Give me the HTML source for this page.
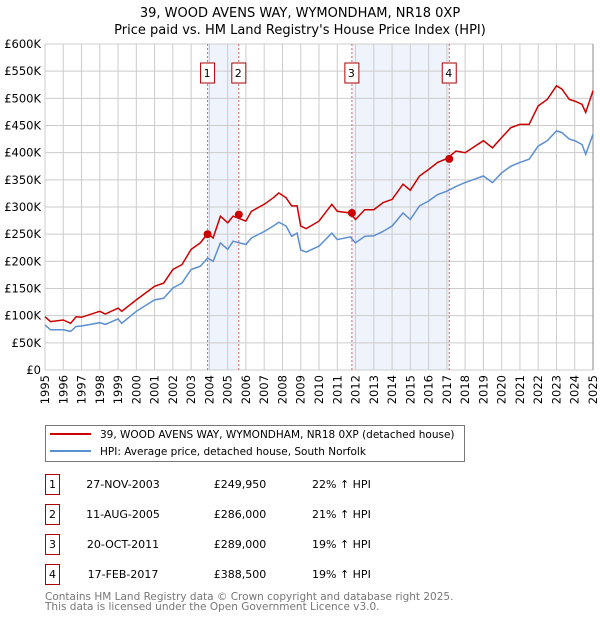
<!DOCTYPE html>
<html><head><meta charset="utf-8"><style>
body{margin:0;background:#fff;font-family:"DejaVu Sans","Liberation Sans",sans-serif;}
svg text{font-family:"DejaVu Sans","Liberation Sans",sans-serif;}
</style></head><body>
<svg id="chart" width="600" height="620" xmlns="http://www.w3.org/2000/svg">
<text x="300" y="17" font-size="13" text-anchor="middle">39, WOOD AVENS WAY, WYMONDHAM, NR18 0XP</text>
<text x="300" y="34" font-size="13" text-anchor="middle">Price paid vs. HM Land Registry's House Price Index (HPI)</text>
<g id="plot"></g>
<g>
<rect x="45.5" y="425.5" width="419" height="36" fill="#fff" stroke="#777"/>
<line x1="50" y1="434" x2="91" y2="434" stroke="#cc0000" stroke-width="2"/>
<text x="100" y="438" font-size="10.5">39, WOOD AVENS WAY, WYMONDHAM, NR18 0XP (detached house)</text>
<line x1="50" y1="451" x2="91" y2="451" stroke="#5b8fd1" stroke-width="2"/>
<text x="100" y="455" font-size="10.5">HPI: Average price, detached house, South Norfolk</text>
</g>
<g id="table" font-size="11"></g>
<text x="45" y="600" font-size="10.5" fill="#777">Contains HM Land Registry data © Crown copyright and database right 2025.</text>
<text x="45" y="610" font-size="10.5" fill="#777">This data is licensed under the Open Government Licence v3.0.</text>
</svg>
<script>
const hpiYears=[1995,1995.3,1996,1996.4,1996.7,1997,1998,1998.3,1999,1999.2,2000,2001,2001.5,2002,2002.5,2003,2003.5,2003.9,2004.2,2004.6,2005,2005.3,2006,2006.3,2007,2007.5,2007.8,2008.2,2008.5,2008.8,2009,2009.3,2010,2010.7,2011,2011.7,2012,2012.5,2013,2013.5,2014,2014.6,2015,2015.5,2016,2016.5,2017,2017.5,2018,2019,2019.5,2020,2020.5,2021,2021.5,2022,2022.5,2023,2023.3,2023.7,2024,2024.4,2024.6,2025];
const hpiValues=[83,74,74,71,80,81,87,84,94,86,108,129,132,151,160,185,191,206,200,234,222,237,231,243,255,265,272,265,246,252,221,217,228,252,240,245,234,246,247,255,265,289,277,302,311,323,329,338,345,357,345,363,375,382,388,412,422,440,437,425,422,415,397,434];
const priceValues=[98,89,92,86,98,97,108,103,114,108,129,154,160,185,194,222,234,251,243,283,271,283,274,292,305,317,326,317,302,302,265,260,274,305,292,289,277,295,295,308,314,342,331,357,369,382,389,403,400,422,409,428,446,452,452,486,498,523,517,498,495,489,474,514];
const saleDates=[2003.9,2005.61,2011.8,2017.13];
const salePrices=[249.95,286,289,388.5];
const saleLabels=["1","2","3","4"];
const tableDates=["27-NOV-2003","11-AUG-2005","20-OCT-2011","17-FEB-2017"];
const tablePrices=["£249,950","£286,000","£289,000","£388,500"];
const tableHpi=["22% ↑ HPI","21% ↑ HPI","19% ↑ HPI","19% ↑ HPI"];
const yTicks=[0,50,100,150,200,250,300,350,400,450,500,550,600];
const yTickLabels=["£0","£50K","£100K","£150K","£200K","£250K","£300K","£350K","£400K","£450K","£500K","£550K","£600K"];
const xTicks=[1995,1996,1997,1998,1999,2000,2001,2002,2003,2004,2005,2006,2007,2008,2009,2010,2011,2012,2013,2014,2015,2016,2017,2018,2019,2020,2021,2022,2023,2024,2025];

const X0=45,X1=593,Y0=370,Y1=44;
const xs=y=>X0+(y-1995)/30*(X1-X0);
const ys=v=>Y0-v/600*(Y0-Y1);
const NS="http://www.w3.org/2000/svg";
const plot=document.getElementById('plot');
function mk(tag,attrs,parent){const e=document.createElementNS(NS,tag);for(const k in attrs)e.setAttribute(k,attrs[k]);(parent||plot).appendChild(e);return e;}
for(let i=0;i<saleDates.length;i+=2){
 const r=mk('rect',{x:xs(saleDates[i]),y:Y1,width:xs(saleDates[i+1])-xs(saleDates[i]),height:Y0-Y1,fill:'#eef3fc'});
 
 
}
yTicks.forEach((t,i)=>{
 const l=mk('line',{x1:X0,x2:X1,y1:ys(t),y2:ys(t),stroke:'#ccc'});
 
 
 const tx=mk('text',{x:X0-4,y:ys(t)+4,'font-size':'11.5','text-anchor':'end'});
 tx.textContent=yTickLabels[i];
 
 
});
xTicks.forEach(t=>{
 const l=mk('line',{x1:xs(t),x2:xs(t),y1:Y1,y2:Y0,stroke:'#ccc'});
 
 
 const tx=mk('text',{x:0,y:0,'font-size':'11.5','text-anchor':'end',transform:`translate(${xs(t)+4},${Y0+5}) rotate(-90)`});
 tx.textContent=t;
 
 
});
const ax=mk('line',{x1:X1,x2:X1,y1:Y1,y2:Y0,stroke:'#888'});


saleDates.forEach((d,i)=>{
 const l=mk('line',{x1:xs(d),x2:xs(d),y1:Y1,y2:Y0,stroke:'#e06060','stroke-dasharray':'2,2'});
 
 
 const b=mk('rect',{x:xs(d)-7,y:63,width:14,height:20,fill:'#fff',stroke:'#aa0000'});
 
 
 const t=mk('text',{x:xs(d)-0.5,y:77,'font-size':'11','text-anchor':'middle'});
 t.textContent=saleLabels[i];
 
 
});
const pts=a=>hpiYears.map((y,i)=>xs(y).toFixed(1)+','+ys(a[i]).toFixed(1)).join(' ');
const hl=mk('polyline',{points:pts(hpiValues),fill:'none',stroke:'#5b8fd1','stroke-width':'1.5'});


const pl=mk('polyline',{points:pts(priceValues),fill:'none',stroke:'#cc0000','stroke-width':'1.5'});


saleDates.forEach((d,i)=>{
 const c=mk('circle',{cx:xs(d),cy:ys(salePrices[i]),r:4,fill:'#cc0000'});
 
 
});
const tb=document.getElementById('table');
const rowY=[485,515,545,575];
tableDates.forEach((d,i)=>{
 const y=rowY[i];
 const b=mk('rect',{x:45.5,y:y-10.5,width:14,height:20,fill:'#fff',stroke:'#aa0000'},tb);
 
 
 const n=mk('text',{x:52.5,y:y+3,'text-anchor':'middle'},tb);n.textContent=saleLabels[i];
 
 
 const a=mk('text',{x:123,y:y+3,'text-anchor':'middle'},tb);a.textContent=d;
 
 
 const p=mk('text',{x:240,y:y+3,'text-anchor':'middle'},tb);p.textContent=tablePrices[i];
 
 
 const h=mk('text',{x:312,y:y+3},tb);h.textContent=tableHpi[i];
 
 
});
</script>
</body></html>
